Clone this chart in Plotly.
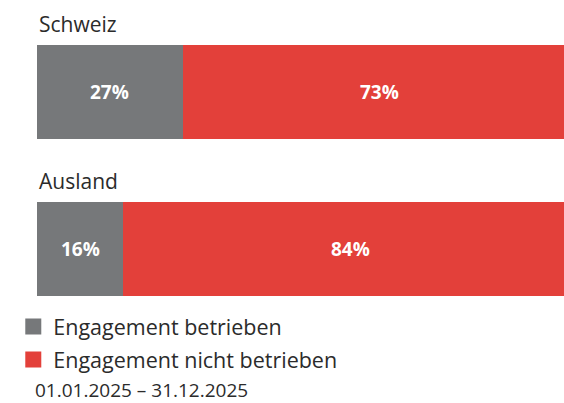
import plotly.graph_objects as go

# data
regions = ['Schweiz', 'Ausland']
betrieben = [27, 16]
nicht_betrieben = [73, 84]
series_names = ['Engagement betrieben', 'Engagement nicht betrieben']
period = '01.01.2025 – 31.12.2025'

GREY = '#76787a'
RED = '#e3403a'
FONT = 'Open Sans'
TEXT = '#2b2b2b'

fig = go.Figure()
for name, vals, col in [(series_names[0], betrieben, GREY),
                        (series_names[1], nicht_betrieben, RED)]:
    fig.add_trace(go.Bar(
        y=regions, x=vals, orientation='h', name=name,
        marker=dict(color=col, line=dict(width=0)),
        width=0.6, textposition='none', hoverinfo='x+name',
        showlegend=False,
    ))
    # square legend markers
    fig.add_trace(go.Scatter(
        x=[None], y=[None], mode='markers', name=name,
        marker=dict(symbol='square', size=16, color=col),
        legendgroup=name, showlegend=True,
    ))

# percentage labels centred in each segment (the chart is cropped on the right)
for r, a, b in zip(regions, betrieben, nicht_betrieben):
    for start, val in [(0, a), (a, b)]:
        fig.add_annotation(x=start + val / 2, y=r, text=f'{val}%',
                           showarrow=False,
                           font=dict(family=FONT, size=19, color='white',
                                     weight='bold'))

# region labels above each bar
for r in regions:
    fig.add_annotation(x=0, xref='paper', y=r, yref='y', text=r,
                       xanchor='left', yanchor='bottom', yshift=52,
                       showarrow=False,
                       font=dict(family=FONT, size=21, color=TEXT))

fig.add_annotation(x=0, xref='paper', y=0, yref='paper', text=period,
                   xanchor='left', yanchor='top', xshift=-3, yshift=-80,
                   showarrow=False, borderpad=0,
                   font=dict(family=FONT, size=19, color=TEXT))

fig.update_layout(
    width=564, height=403,
    barmode='stack',
    bargap=0,
    plot_bgcolor='white', paper_bgcolor='white',
    margin=dict(l=37, r=0, t=45, b=107, autoexpand=False),
    font=dict(family=FONT, color=TEXT),
    legend=dict(x=-0.045, xanchor='left', y=-0.04, yanchor='top',
                font=dict(family=FONT, size=21.5, color=TEXT),
                tracegroupgap=2, itemwidth=30,
                bgcolor='rgba(0,0,0,0)'),
)
fig.update_xaxes(range=[0, 97.6], visible=False, fixedrange=True)
fig.update_yaxes(range=[1.3, -0.3], visible=False, fixedrange=True)

fig.write_html('out.html', config={'displayModeBar': False},
               post_script="document.body.style.margin='0';")
